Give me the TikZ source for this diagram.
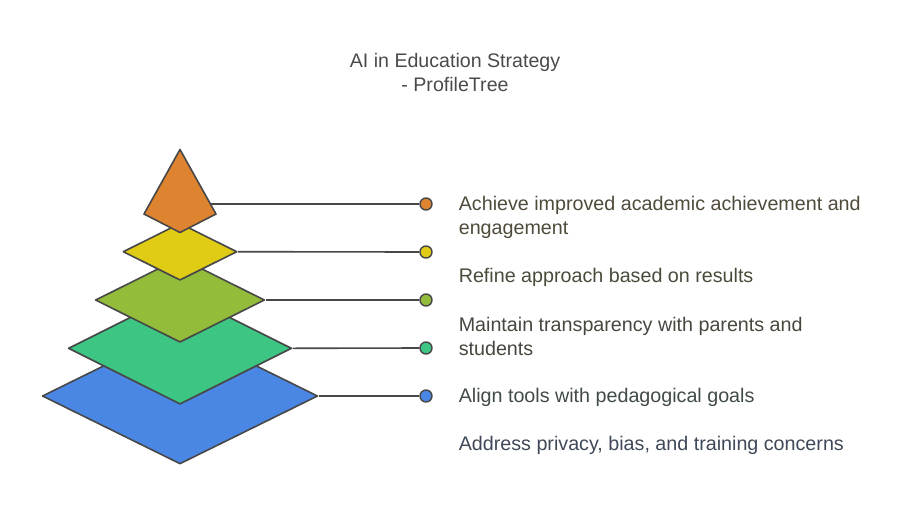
\documentclass[tikz,border=0pt]{standalone}
\usepackage{fontspec}
\setmainfont{Liberation Sans}
\usetikzlibrary{shapes.geometric}

\definecolor{tipOrange}{HTML}{DE8431}
\definecolor{layYellow}{HTML}{E0CB15}
\definecolor{layOlive}{HTML}{93BC3A}
\definecolor{layGreen}{HTML}{3CC583}
\definecolor{layBlue}{HTML}{4A86E4}
\definecolor{edgeGray}{HTML}{474747}
\definecolor{titleGray}{HTML}{4A4A4A}

\begin{document}
\begin{tikzpicture}[x=1pt, y=-1pt, line width=1.6pt,
  layer/.style={draw=edgeGray, diamond, inner sep=0pt, line join=round},
  dot/.style={draw=edgeGray, circle, inner sep=0pt, minimum size=12pt, line width=1.4pt},
  lead/.style={draw=edgeGray, line width=1.6pt},
  label/.style={anchor=west, align=left, inner sep=0pt,
    font=\fontsize{19.7}{24}\selectfont}]
  \useasboundingbox (0,0) rectangle (912,528);

  % title
  \node [text=titleGray, align=center, font=\fontsize{19.6}{24}\selectfont]
    (title) at (455,72) {AI in Education Strategy\\- ProfileTree};

  % pyramid, bottom layer first
  \node [layer, fill=layBlue, minimum width=275.6pt, minimum height=136pt]
    (layA) at (180,396) {};
  \node [layer, fill=layGreen, minimum width=223.4pt, minimum height=112pt]
    (layB) at (180,348.3) {};
  \node [layer, fill=layOlive, minimum width=169.4pt, minimum height=84.6pt]
    (layC) at (180,300) {};
  \node [layer, fill=layYellow, minimum width=114pt, minimum height=57.2pt]
    (layD) at (180,251.7) {};
  \draw [draw=edgeGray, fill=tipOrange, line join=round]
    (180,149.5) -- (216,214) -- (180,232.5) -- (144,214) -- cycle;
  \coordinate (layE) at (210.5,204);

  % dots
  \node [dot, fill=tipOrange] (dotE) at (426,204) {};
  \node [dot, fill=layYellow] (dotD) at (426,252) {};
  \node [dot, fill=layOlive] (dotC) at (426,300) {};
  \node [dot, fill=layGreen] (dotB) at (426,348) {};
  \node [dot, fill=layBlue] (dotA) at (426,396) {};

  % leaders
  \draw [lead] (layE) -- (dotE.west);
  \draw [lead] (layD.east) -- (dotD.west);
  \draw [lead] (layC.east) -- (dotC.west);
  \draw [lead] (layB.east) -- (dotB.west);
  \draw [lead] (layA.east) -- (dotA.west);

  % texts
  \node [label, text={rgb,255:red,79;green,74;blue,58}] (txtE) at (458,217.5)
    {Achieve improved academic achievement and\\engagement};
  \node [label, text={rgb,255:red,74;green,74;blue,58}] (txtD) at (458,277.5)
    {Refine approach based on results};
  \node [label, text={rgb,255:red,70;green,72;blue,62}] (txtC) at (458,336.5)
    {Maintain transparency with parents and\\students};
  \node [label, text={rgb,255:red,64;green,74;blue,72}] (txtB) at (458,397.5)
    {Align tools with pedagogical goals};
  \node [label, text={rgb,255:red,63;green,72;blue,88}] (txtA) at (458,445.5)
    {Address privacy, bias, and training concerns};
\end{tikzpicture}
\end{document}
